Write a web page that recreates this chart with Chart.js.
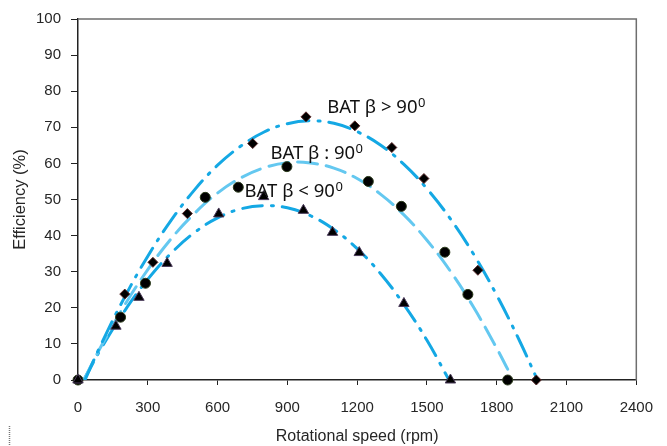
<!DOCTYPE html>
<html>
<head>
<meta charset="utf-8">
<script src="https://cdn.jsdelivr.net/npm/chart.js@4"></script>
<style>
  html, body { margin: 0; padding: 0; background: #fff; }
  #wrap { width: 667px; height: 446px; }
</style>
</head>
<body>
<div id="wrap"><canvas id="grafico" width="667" height="446"></canvas></div>
<script>
// measured points, one pair of arrays per blade angle
const rpmHigh = [0, 201, 322, 470, 751, 980, 1190, 1349, 1487, 1719, 1970];
const effHigh = [0, 23.8, 32.6, 46.1, 65.5, 72.9, 70.4, 64.4, 55.8, 30.4, 0];
const rpmMid = [0, 183, 290, 547, 689, 898, 1248, 1390, 1577, 1676, 1847];
const effMid = [0, 17.4, 26.8, 50.6, 53.4, 59.1, 55.0, 48.1, 35.4, 23.7, 0];
const rpmLow = [0, 163, 262, 383, 605, 798, 969, 1094, 1209, 1401, 1601];
const effLow = [0, 14.9, 22.9, 32.3, 46.0, 50.8, 47.0, 40.9, 35.3, 21.2, 0];

// trend curves
const trendRpmHigh = [30, 100, 200, 300, 400, 500, 600, 700, 800, 900, 1000, 1100, 1200, 1300, 1400, 1500, 1600, 1700, 1800, 1900, 1975];
const trendEffHigh = [0, 10.0, 22.9, 34.3, 44.2, 52.6, 59.5, 64.8, 68.7, 71.0, 71.8, 71.1, 68.8, 65.1, 59.8, 53.0, 44.7, 34.9, 23.5, 10.6, 0];
const trendRpmMid = [25, 100, 200, 300, 400, 500, 600, 700, 800, 900, 1000, 1100, 1200, 1300, 1400, 1500, 1600, 1700, 1800, 1847];
const trendEffMid = [0, 9.4, 20.7, 30.6, 39.1, 46.1, 51.8, 56.0, 58.8, 60.2, 60.1, 58.7, 55.8, 51.5, 45.8, 38.7, 30.2, 20.2, 8.8, 3.0];
const trendRpmLow = [25, 100, 200, 300, 400, 500, 600, 700, 800, 900, 1000, 1100, 1200, 1300, 1400, 1500, 1595];
const trendEffLow = [0, 8.8, 19.1, 27.9, 35.1, 40.8, 44.9, 47.4, 48.3, 47.7, 45.5, 41.7, 36.4, 29.5, 21.0, 11.0, 0];

const xTicks = [0, 300, 600, 900, 1200, 1500, 1800, 2100, 2400];
const yTicks = [0, 10, 20, 30, 40, 50, 60, 70, 80, 90, 100];

const curveLabels = ['BAT β > 90', 'BAT β : 90', 'BAT β < 90'];

function pares(xs, ys) {
    return xs.map((x, i) => ({ x: x, y: ys[i] }));
}

const azulEscuro = 'rgb(20,168,228)';
const azulClaro = 'rgb(100,200,240)';

// frame on top/right and the curve labels
const extras = {
    id: 'extras',
    afterDraw(chart) {
        const ctx = chart.ctx;
        const a = chart.chartArea;
        const sx = chart.scales.x, sy = chart.scales.y;
        ctx.save();
        ctx.strokeStyle = '#6e6e6e';
        ctx.lineWidth = 1.5;
        ctx.beginPath();
        ctx.moveTo(a.left, a.top);
        ctx.lineTo(a.right, a.top);
        ctx.lineTo(a.right, a.bottom);
        ctx.stroke();

        const pos = [[1071, 74.0], [827, 61.3], [716, 50.6]];
        curveLabels.forEach((t, i) => {
            const px = sx.getPixelForValue(pos[i][0]);
            const py = sy.getPixelForValue(pos[i][1]);
            ctx.fillStyle = '#111';
            ctx.textAlign = 'left';
            ctx.textBaseline = 'alphabetic';
            ctx.font = '18.5px "Noto Sans"';
            ctx.fillText(t, px, py);
            const w = ctx.measureText(t).width;
            ctx.font = '13px "Noto Sans"';
            ctx.fillText('0', px + w + 0.5, py - 6);
        });

        // little dotted mark in the lower left corner
        ctx.strokeStyle = '#777';
        ctx.lineWidth = 1.5;
        ctx.setLineDash([1, 1]);
        ctx.beginPath();
        ctx.moveTo(9.5, 426);
        ctx.lineTo(9.5, 446);
        ctx.stroke();
        ctx.restore();
    }
};

const linha = (dados, cor, traco) => ({
    data: dados,
    showLine: true,
    borderColor: cor,
    borderWidth: 3,
    borderDash: traco,
    borderCapStyle: 'round',
    pointRadius: 0,
    tension: 0.4,
    fill: false,
    order: 1
});

const pontos = (dados, estilo, raio, borda) => ({
    data: dados,
    showLine: false,
    pointStyle: estilo,
    pointRadius: raio,
    pointBackgroundColor: '#000',
    pointBorderColor: borda,
    pointBorderWidth: 1,
    clip: false,
    order: 0
});

new Chart(document.getElementById('grafico').getContext('2d'), {
    type: 'scatter',
    data: {
        datasets: [
            pontos(pares(rpmLow, effLow), 'triangle', 6, '#4a3a5a'),
            pontos(pares(rpmMid, effMid), 'circle', 5, '#2a3a1a'),
            pontos(pares(rpmHigh, effHigh), 'rectRot', 5, '#5a2a2a'),
            linha(pares(trendRpmHigh, trendEffHigh), azulEscuro, [22, 9, 2, 9]),
            linha(pares(trendRpmMid, trendEffMid), azulClaro, [20, 9]),
            linha(pares(trendRpmLow, trendEffLow), azulEscuro, [20, 9, 2, 9])
        ]
    },
    options: {
        responsive: false,
        animation: false,
        devicePixelRatio: 1,
        layout: { padding: { left: 0, right: 29, top: 18, bottom: 0 } },
        plugins: {
            legend: { display: false },
            tooltip: { enabled: false }
        },
        scales: {
            x: {
                type: 'linear',
                min: 0,
                max: 2400,
                afterBuildTicks: s => { s.ticks = xTicks.map(v => ({ value: v })); },
                afterFit: s => { s.height = 66; },
                grid: { drawOnChartArea: false, drawTicks: true, tickLength: 5, color: '#222' },
                border: { color: '#222', width: 1.5 },
                ticks: {
                    color: '#262626',
                    font: { family: 'Liberation Sans', size: 15 },
                    padding: 14,
                    maxRotation: 0,
                    callback: v => String(v)
                },
                title: {
                    display: true,
                    text: 'Rotational speed (rpm)',
                    color: '#262626',
                    font: { family: 'Liberation Sans', size: 16 },
                    padding: { top: 0, bottom: 0 }
                }
            },
            y: {
                type: 'linear',
                min: 0,
                max: 100,
                afterBuildTicks: s => { s.ticks = yTicks.map(v => ({ value: v })); },
                afterFit: s => { s.width = 78; },
                grid: { drawOnChartArea: false, drawTicks: true, tickLength: 7, color: '#222' },
                border: { color: '#222', width: 1.5 },
                ticks: {
                    color: '#262626',
                    font: { family: 'Liberation Sans', size: 15 },
                    padding: 10,
                    callback: v => String(v)
                },
                title: {
                    display: true,
                    text: 'Efficiency (%)',
                    color: '#262626',
                    font: { family: 'Liberation Sans', size: 16.5 },
                    padding: { top: 11, bottom: 0 }
                }
            }
        }
    },
    plugins: [extras]
});
</script>
</body>
</html>
